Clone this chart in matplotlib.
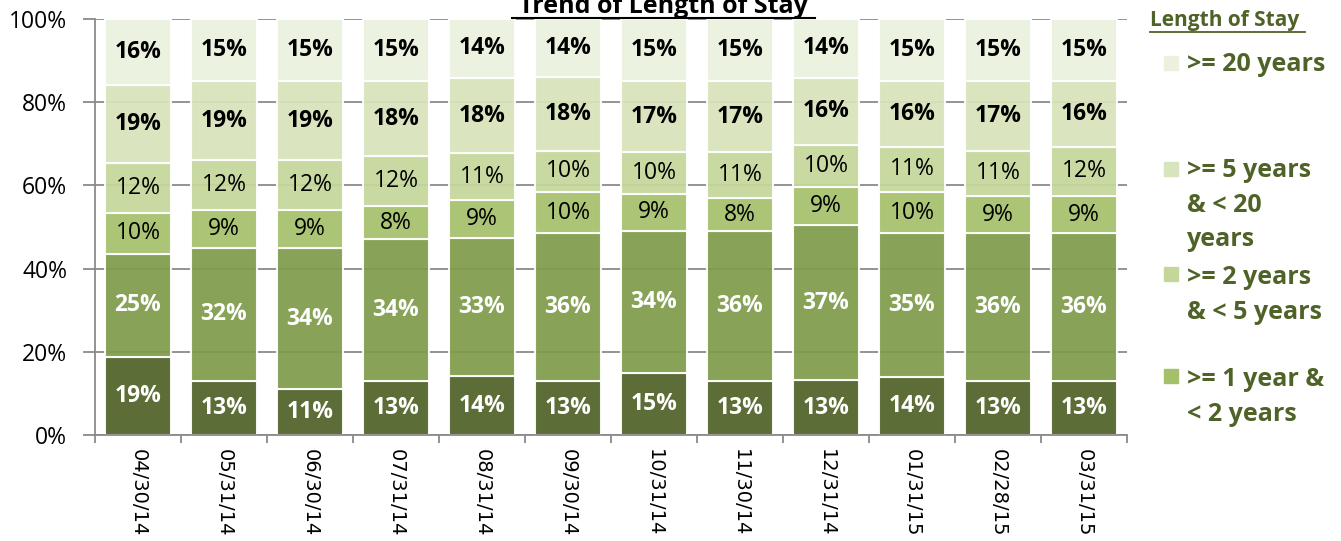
import matplotlib
matplotlib.use('Agg')
import matplotlib.pyplot as plt
from matplotlib.patches import Rectangle
from matplotlib.lines import Line2D
import numpy as np

plt.rcParams['font.family'] = ['Open Sans', 'DejaVu Sans']

dates = ['04/30/14', '05/31/14', '06/30/14', '07/31/14', '08/31/14', '09/30/14',
         '10/31/14', '11/30/14', '12/31/14', '01/31/15', '02/28/15', '03/31/15']

# segments from bottom to top
seg1 = [19, 13, 11, 13, 14, 13, 15, 13, 13, 14, 13, 13]
seg2 = [25, 32, 34, 34, 33, 36, 34, 36, 37, 35, 36, 36]
seg3 = [10, 9, 9, 8, 9, 10, 9, 8, 9, 10, 9, 9]        # >= 1 year & < 2 years
seg4 = [12, 12, 12, 12, 11, 10, 10, 11, 10, 11, 11, 12]  # >= 2 years & < 5 years
seg5 = [19, 19, 19, 18, 18, 18, 17, 17, 16, 16, 17, 16]  # >= 5 years & < 20 years
seg6 = [16, 15, 15, 15, 14, 14, 15, 15, 14, 15, 15, 15]  # >= 20 years

series = [seg1, seg2, seg3, seg4, seg5, seg6]
colors = ['#4f6228', '#7f9c4b', '#a6c06a', '#c4d79b', '#d8e4bc', '#ebf1de']
txt_colors = ['white', 'white', 'black', 'black', 'black', 'black']
txt_weights = ['bold', 'bold', 'normal', 'normal', 'bold', 'bold']

legend_labels = ['>= 20 years', '>= 5 years\n& < 20\nyears', '>= 2 years\n& < 5 years',
                 '>= 1 year &\n< 2 years']
legend_colors = ['#ebf1de', '#d8e4bc', '#c4d79b', '#a6c06a']

W, H = 1341, 541
fig = plt.figure(figsize=(W / 100, H / 100), dpi=100)
ax = fig.add_axes([95 / W, 1 - 435 / H, (1127 - 95) / W, (435 - 19) / H])

data = np.array(series, dtype=float)
totals = data.sum(axis=0)
norm = data / totals
x = np.arange(len(dates))
bottom = np.zeros(len(dates))
for i in range(len(series)):
    ax.bar(x, norm[i], 0.76, bottom=bottom, color=colors[i], edgecolor='white',
           linewidth=1.5, zorder=2, alpha=0.93)
    for j in range(len(dates)):
        ax.text(x[j], bottom[j] + norm[i][j] / 2, str(series[i][j]) + '%',
                ha='center', va='center', fontsize=16.5, color=txt_colors[i],
                fontweight=txt_weights[i], zorder=3)
    bottom += norm[i]

ax.set_xlim(-0.5, len(dates) - 0.5)
ax.set_ylim(0, 1)
ax.set_yticks(np.arange(0, 1.01, 0.2))
ax.set_yticklabels([str(int(round(v * 100))) + '%' for v in np.arange(0, 1.01, 0.2)],
                   fontsize=16.5)
ax.yaxis.grid(True, color='#8a8a8a', linewidth=1.3, zorder=0)
ax.set_axisbelow(True)
ax.tick_params(axis='y', length=9, color='#8a8a8a', width=1.3, pad=11)

ax.set_xticks(x)
ax.set_xticklabels(dates, rotation=270, fontsize=14, family='DejaVu Sans')
ax.tick_params(axis='x', length=0, pad=10)
ax.set_xticks(np.arange(-0.5, len(dates)), minor=True)
ax.tick_params(axis='x', which='minor', length=6, color='#8a8a8a', width=1.3)

for s in ['top', 'right']:
    ax.spines[s].set_visible(False)
for s in ['left', 'bottom']:
    ax.spines[s].set_color('#8a8a8a')
    ax.spines[s].set_linewidth(1.3)

# title (cut at top edge, as in the source)
fig.text(663 / W, 1 - 13 / H, 'Trend of Length of Stay', ha='center', va='baseline',
         fontsize=18, fontweight='bold')
fig.add_artist(Line2D([512 / W, 815 / W], [1 - 18 / H, 1 - 18 / H], color='black', lw=1.5))

# legend
green = '#4f6228'
fig.text(1150 / W, 1 - 26 / H, 'Length of Stay', ha='left', va='baseline',
         fontsize=15, fontweight='bold', color=green)
fig.add_artist(Line2D([1150 / W, 1305 / W], [1 - 32 / H, 1 - 32 / H], color=green, lw=1.3))
sq_tops = [56, 162, 267, 369]
last_baselines = [71, 246, 319, 421]
for k in range(len(legend_labels)):
    fig.add_artist(Rectangle((1164 / W, 1 - (sq_tops[k] + 14) / H), 14 / W, 14 / H,
                             color=legend_colors[k], transform=fig.transFigure))
    fig.text(1187 / W, 1 - last_baselines[k] / H, legend_labels[k], ha='left',
             va='baseline', fontsize=18, fontweight='bold', color=green, linespacing=1.5)

fig.savefig('out.png', dpi=100)
